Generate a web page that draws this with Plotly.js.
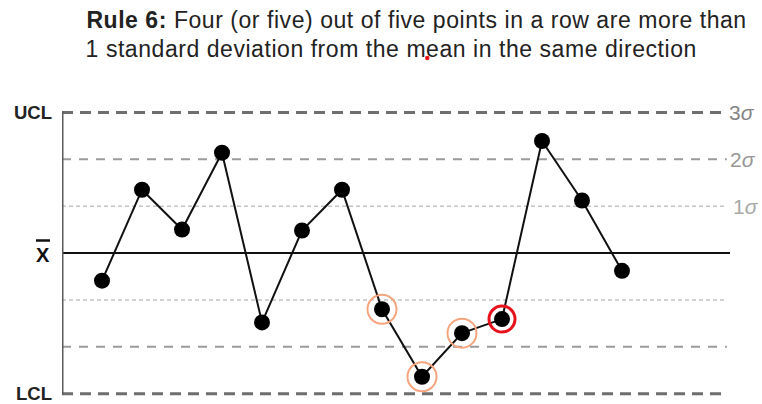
<!DOCTYPE html>
<html>
<head>
<meta charset="utf-8">
<script src="https://cdn.plot.ly/plotly-3.0.1.min.js"></script>
<style>
html,body{margin:0;padding:0;background:#fff;}
#chart{width:762px;height:404px;}
</style>
</head>
<body>
<div id="chart"></div>
<script>
// sample number along the run
const sampleIndex = [1, 2, 3, 4, 5, 6, 7, 8, 9, 10, 11, 12, 13, 14];
// measured values, in standard deviations from the mean
const sigmaValues = [-0.59, 1.35, 0.50, 2.14, -1.48, 0.48, 1.35, -1.20, -2.64, -1.71, -1.41, 2.39, 1.12, -0.38];
// points flagged as part of the rule-6 run
const flaggedIndex = [8, 9, 10];
// point at which the rule is violated
const violationIndex = [11];
// control zone levels (sigma)
const limitLevels = [3, -3];
const twoSigmaLevels = [2, -2];
const oneSigmaLevels = [1, -1];
const sigmaLabels = ['3<i>σ</i>', '2<i>σ</i>', '1<i>σ</i>'];
const sigmaLabelLevels = [3, 2, 1];
const titleLine1 = '<b>Rule 6:</b> Four (or five) out of five points in a row are more than';
const titleLine2 = '1 standard deviation from the mean in the same direction';

const xEnd = 16.7;
const FONT = 'Liberation Sans, Arial, sans-serif';
const px2x = p => (p - 62) / 668;
const px2y = p => (403 - p) / 300;

const valueAt = i => sigmaValues[sampleIndex.indexOf(i)];

const traces = [
  {
    x: sampleIndex, y: sigmaValues, type: 'scatter', mode: 'lines+markers',
    line: {color: '#111', width: 2},
    marker: {color: '#000', size: 16},
    hoverinfo: 'skip', showlegend: false, cliponaxis: false
  },
  {
    x: flaggedIndex, y: flaggedIndex.map(valueAt), type: 'scatter', mode: 'markers',
    marker: {symbol: 'circle-open', size: 29, color: '#f6a47e', line: {width: 2, color: '#f6a47e'}},
    hoverinfo: 'skip', showlegend: false, cliponaxis: false
  },
  {
    x: violationIndex, y: violationIndex.map(valueAt), type: 'scatter', mode: 'markers',
    marker: {symbol: 'circle-open', size: 26, color: '#e8121c', line: {width: 3, color: '#e8121c'}},
    hoverinfo: 'skip', showlegend: false, cliponaxis: false
  }
];

const shapes = [];
limitLevels.forEach(v => shapes.push({type: 'line', xref: 'x', yref: 'y', x0: 0, x1: 16.62, y0: v, y1: v,
  line: {color: '#6e6e6e', width: 3, dash: '11px,7px'}, layer: 'below'}));
twoSigmaLevels.forEach(v => shapes.push({type: 'line', xref: 'x', yref: 'y', x0: 0, x1: 16.62, y0: v, y1: v,
  line: {color: '#9a9a9a', width: 2, dash: '9px,8px'}, layer: 'below'}));
oneSigmaLevels.forEach(v => shapes.push({type: 'line', xref: 'x', yref: 'y', x0: 0, x1: 16.62, y0: v, y1: v,
  line: {color: '#c4c4c4', width: 1.5, dash: '4px,3px'}, layer: 'below'}));
// mean line
shapes.push({type: 'line', xref: 'x', yref: 'y', x0: 0, x1: xEnd, y0: 0, y1: 0, line: {color: '#111', width: 2}, layer: 'below'});
// vertical axis
shapes.push({type: 'line', xref: 'x', yref: 'y', x0: 0, x1: 0, y0: -3.02, y1: 3.02, line: {color: '#5a5a5a', width: 3}, layer: 'below'});
// bar over X
shapes.push({type: 'line', xref: 'paper', yref: 'paper', x0: px2x(36), x1: px2x(50), y0: px2y(240.5), y1: px2y(240.5), line: {color: '#111', width: 2.5}});
// small red dot artifact under "mean"
shapes.push({type: 'circle', xref: 'paper', yref: 'paper', x0: px2x(425), x1: px2x(429.5), y0: px2y(60.3), y1: px2y(55.8),
  fillcolor: '#e8121c', line: {width: 0}});

const annotations = [];
// title lines are centred on their measured spans (text widened by letter spacing below)
annotations.push({xref: 'paper', yref: 'paper', x: px2x(416), y: px2y(19.5), xanchor: 'center', yanchor: 'middle',
  text: titleLine1, showarrow: false, font: {family: FONT, size: 23, color: '#222'}});
annotations.push({xref: 'paper', yref: 'paper', x: px2x(391), y: px2y(48.5), xanchor: 'center', yanchor: 'middle',
  text: titleLine2, showarrow: false, font: {family: FONT, size: 23, color: '#222'}});
annotations.push({xref: 'paper', yref: 'y', x: px2x(54), y: 3, xanchor: 'right', yanchor: 'middle', text: '<b>UCL</b>', showarrow: false,
  font: {family: FONT, size: 18.5, color: '#222'}});
annotations.push({xref: 'paper', yref: 'y', x: px2x(54), y: -3, xanchor: 'right', yanchor: 'middle', text: '<b>LCL</b>', showarrow: false,
  font: {family: FONT, size: 18.5, color: '#222'}});
annotations.push({xref: 'paper', yref: 'y', x: px2x(43), y: -0.05, xanchor: 'center', yanchor: 'middle', text: '<b>X</b>', showarrow: false,
  font: {family: FONT, size: 20, color: '#111'}});
const sigmaColors = ['#858585', '#979797', '#a8a8a8'];
const sigmaPx = [727, 728, 731];
sigmaLabels.forEach((t, k) => annotations.push({xref: 'paper', yref: 'y', x: px2x(sigmaPx[k]), y: sigmaLabelLevels[k], xanchor: 'left', yanchor: 'middle',
  text: t, showarrow: false, font: {family: FONT, size: 21, color: sigmaColors[k]}}));

const layout = {
  width: 762, height: 404,
  margin: {l: 62, r: 32, t: 103, b: 1, pad: 0},
  paper_bgcolor: '#fff', plot_bgcolor: '#fff',
  xaxis: {range: [0, xEnd], visible: false, fixedrange: true},
  yaxis: {range: [-3.2, 3.2], visible: false, fixedrange: true},
  shapes: shapes, annotations: annotations, showlegend: false
};

Plotly.newPlot('chart', traces, layout, {staticPlot: true, displayModeBar: false}).then(gd => {
  // widen the two title lines slightly (the reference text is set loosely)
  const anns = gd.querySelectorAll('.annotation');
  [0, 1].forEach(i => {
    const t = anns[i] && anns[i].querySelector('text');
    if (t) t.style.letterSpacing = '0.55px';
  });
});
</script>
</body>
</html>
